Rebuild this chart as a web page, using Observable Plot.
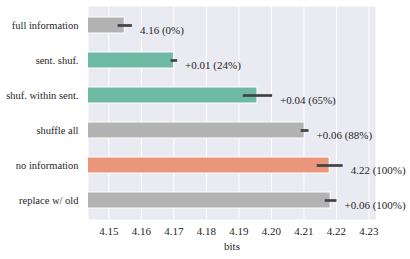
<!DOCTYPE html>
<html><head><meta charset="utf-8">
<script src="https://cdn.jsdelivr.net/npm/d3@7"></script>
<script src="https://cdn.jsdelivr.net/npm/@observablehq/plot@0.6"></script>
<style>body{margin:0;background:#fff}</style>
</head><body><div id="chart"></div>
<script>
const categories = ["full information","sent. shuf.","shuf. within sent.","shuffle all","no information","replace w/ old"];
const values = [4.1549, 4.1700, 4.1957, 4.2102, 4.2179, 4.2182];
const errors = [0.0022, 0.0010, 0.0045, 0.0012, 0.0040, 0.0018];
const annotations = ["4.16 (0%)","+0.01 (24%)","+0.04 (65%)","+0.06 (88%)","4.22 (100%)","+0.06 (100%)"];
const groups = ["base","shuffle","shuffle","base","none","base"];
const xTicks = [4.15,4.16,4.17,4.18,4.19,4.20,4.21,4.22,4.23];

const data = categories.map((c,i)=>({cat:c, v:values[i], e:errors[i], label:annotations[i], g:groups[i]}));

const chart = Plot.plot({
  width: 410, height: 259,
  marginLeft: 88, marginRight: 35, marginTop: 6, marginBottom: 40,
  style: {fontSize: "10px", color: "#262626", background: "#fff", fontFamily: "'Liberation Serif', 'Times New Roman', serif"},
  x: {domain: [4.14375, 4.232], ticks: xTicks, tickFormat: d3.format(".2f"), label: null},
  y: {domain: categories, paddingInner: 0.53, paddingOuter: 0.265, label: null},
  color: {domain: ["base","shuffle","none"], range: ["#b3b3b3","#6db9a1","#e9967a"]},
  marks: [
    Plot.frame({fill: "#eaeaf2", stroke: null}),
    Plot.gridX(xTicks, {stroke: "white", strokeOpacity: 1, strokeWidth: 1}),
    Plot.barX(data, {y: "cat", x: "v", fill: "g", stroke: "white", strokeWidth: 1, clip: true}),
    Plot.link(data, {y1: "cat", y2: "cat", x1: d=>d.v-d.e, x2: d=>d.v+d.e, stroke: "#424242", strokeWidth: 2.7}),
    Plot.text(data, {y: "cat", x: d=>d.v+d.e, text: "label", textAnchor: "start", dx: 8, dy: 5, fontSize: 11, fill: "#262626"}),
    Plot.axisX(xTicks, {tickSize: 0, tickPadding: 8, fontSize: 11, label: "bits", labelAnchor: "center", labelOffset: 30, labelArrow: "none"}),
    Plot.axisY({tickSize: 0, tickPadding: 10, fontSize: 10.5, label: null})
  ]
});
document.getElementById("chart").appendChild(chart);
</script></body></html>
